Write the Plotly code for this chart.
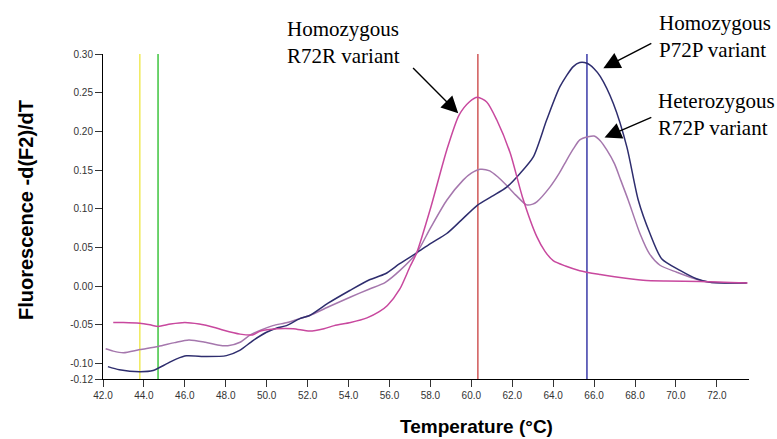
import plotly.graph_objects as go

# ---------------- data ----------------
r72r_temp = [42.5, 43.0, 43.8, 44.3, 44.7, 45.3, 46.0, 46.7, 47.4, 47.9, 48.7, 49.3, 49.7,
             50.5, 51.3, 52.1, 52.8, 53.3, 54.1, 54.9, 55.5, 55.9, 56.5, 57.0, 57.33, 58.0,
             58.8, 59.4, 59.9, 60.3, 60.75, 61.24, 61.9, 62.5, 63.2, 63.6, 64.0, 64.6, 65.3,
             66.3, 67.0, 68.4, 69.5, 71.2, 73.5]
r72r_val = [-0.047, -0.047, -0.048, -0.050, -0.052, -0.049, -0.047, -0.049, -0.053, -0.057,
            -0.062, -0.063, -0.058, -0.055, -0.055, -0.058, -0.055, -0.051, -0.047, -0.041,
            -0.033, -0.025, -0.004, 0.025, 0.043, 0.100, 0.176, 0.221, 0.238, 0.244, 0.238,
            0.215, 0.172, 0.115, 0.064, 0.045, 0.033, 0.026, 0.020, 0.015, 0.012, 0.0075,
            0.0065, 0.006, 0.004]

r72p_temp = [42.13, 42.5, 43.0, 43.8, 44.7, 45.5, 46.2, 47.0, 47.6, 48.1, 48.7, 49.2, 49.7,
             50.3, 51.0, 51.6, 52.1, 53.0, 54.1, 55.0, 55.8, 56.5, 57.33, 58.0, 58.8, 59.6,
             60.0, 60.42, 60.9, 61.3, 61.73, 62.2, 62.7, 63.0, 63.2, 63.84, 64.3, 64.66, 65.0,
             65.3, 65.7, 66.0, 66.3, 66.62, 67.0, 67.3, 67.67, 68.24, 68.7, 69.22, 70.04,
             70.85, 71.67, 73.46]
r72p_val = [-0.081, -0.084, -0.086, -0.082, -0.078, -0.073, -0.0695, -0.0725, -0.076, -0.077,
            -0.0725, -0.063, -0.057, -0.051, -0.047, -0.042, -0.038, -0.027, -0.014, -0.004,
            0.005, 0.020, 0.043, 0.075, 0.111, 0.137, 0.146, 0.151, 0.149, 0.141, 0.130,
            0.117, 0.105, 0.106, 0.109, 0.128, 0.146, 0.163, 0.178, 0.189, 0.193, 0.194,
            0.188, 0.176, 0.158, 0.137, 0.111, 0.068, 0.042, 0.027, 0.018, 0.010, 0.005, 0.004]

p72p_temp = [42.24, 42.8, 43.8, 44.45, 45.1, 45.6, 46.08, 47.06, 48.03, 48.68, 49.33, 49.99,
             50.5, 50.97, 51.62, 52.1, 53.0, 54.06, 55.0, 55.8, 56.5, 57.33, 58.0, 58.8, 59.5,
             60.29, 61.0, 61.73, 62.38, 63.03, 63.68, 64.33, 64.98, 65.3, 65.65, 66.0, 66.3,
             66.94, 67.6, 68.16, 68.73, 69.3, 70.2, 71.0, 71.67, 73.46]
p72p_val = [-0.104, -0.108, -0.1105, -0.109, -0.1005, -0.094, -0.090, -0.091, -0.0898, -0.083,
            -0.0703, -0.0596, -0.054, -0.051, -0.042, -0.038, -0.022, -0.0056, 0.008, 0.016,
            0.029, 0.043, 0.055, 0.068, 0.085, 0.1045, 0.116, 0.128, 0.1456, 0.167, 0.2146,
            0.2578, 0.2837, 0.289, 0.288, 0.281, 0.271, 0.236, 0.18, 0.111, 0.068, 0.0355,
            0.0203, 0.0096, 0.005, 0.004]

marker_temps = [43.8, 44.69, 60.32, 65.65]
marker_colors = ["#f0ea5a", "#3ec43e", "#d05858", "#3a3aa8"]

x_ticks = [42 + 2 * i for i in range(16)]
x_tick_labels = [f"{t:.1f}" for t in x_ticks]
y_ticks = [-0.12, -0.10, -0.05, 0.0, 0.05, 0.10, 0.15, 0.20, 0.25, 0.30]
y_tick_labels = ["-0.12", "-0.10", "-0.05", "0.00", "0.05", "0.10", "0.15", "0.20", "0.25", "0.30"]

# ---------------- figure ----------------
W, H = 777, 439
L, R, T, B = 103, 28, 54, 60
pw, ph = W - L - R, H - T - B


def px(x):
    return (x - L) / pw


def py(y):
    return (H - B - y) / ph


fig = go.Figure()

for t, c in zip(marker_temps, marker_colors):
    fig.add_shape(type="line", x0=t, x1=t, y0=0, y1=1, xref="x", yref="paper",
                  line=dict(color=c, width=1.5), layer="below")

curve_line = dict(width=1.5, shape="spline", smoothing=0.7)
fig.add_trace(go.Scatter(x=r72p_temp, y=r72p_val, mode="lines",
                         line=dict(color="#a577ad", **curve_line), name="R72P"))
fig.add_trace(go.Scatter(x=p72p_temp, y=p72p_val, mode="lines",
                         line=dict(color="#2e2d6e", **curve_line), name="P72P"))
fig.add_trace(go.Scatter(x=r72r_temp, y=r72r_val, mode="lines",
                         line=dict(color="#c8489e", **curve_line), name="R72R"))

tick_font = dict(family="Liberation Sans, Arial", size=10, color="#333333")

fig.update_layout(
    width=W, height=H,
    margin=dict(l=L, r=R, t=T, b=B, pad=0),
    paper_bgcolor="white", plot_bgcolor="white",
    showlegend=False,
    xaxis=dict(range=[42, 73.57], tickvals=x_ticks, ticktext=x_tick_labels,
               showgrid=False, zeroline=False, showline=True, linecolor="black",
               linewidth=1, ticks="outside", ticklen=7, tickcolor="#333333",
               tickfont=tick_font),
    yaxis=dict(range=[-0.12, 0.30], tickvals=y_ticks, ticktext=y_tick_labels,
               showgrid=False, zeroline=False, showline=True, linecolor="black",
               linewidth=1, ticks="outside", ticklen=7, tickcolor="#333333",
               tickfont=tick_font),
)

serif = dict(family="Liberation Serif, Times New Roman", size=21, color="black")
bold = dict(family="Liberation Sans, Arial", size=19, color="black")

annots = [
    dict(text="<b>Temperature (°C)</b>", x=px(476), y=py(426), xref="paper", yref="paper",
         xanchor="center", yanchor="middle", showarrow=False, font=bold),
    dict(text="<b>Fluorescence -d(F2)/dT</b>", x=px(26), y=py(210), xref="paper", yref="paper",
         xanchor="center", yanchor="middle", textangle=-90, showarrow=False,
         font=dict(family="Liberation Sans, Arial", size=20, color="black")),
    dict(text="Homozygous<br>R72R variant", x=px(285), y=py(15), xref="paper", yref="paper",
         xanchor="left", yanchor="top", align="left", showarrow=False, font=serif),
    dict(text="Homozygous<br>P72P variant", x=px(657), y=py(9), xref="paper", yref="paper",
         xanchor="left", yanchor="top", align="left", showarrow=False, font=serif),
    dict(text="Heterozygous<br>R72P variant", x=px(656), y=py(87), xref="paper", yref="paper",
         xanchor="left", yanchor="top", align="left", showarrow=False, font=serif),
]

arrows = [((59.36, 0.2233), (57.08, 0.2837)),
          ((66.45, 0.2816), (68.87, 0.3148)),
          ((66.51, 0.192), (68.87, 0.219))]
for (hx, hy), (tx, ty) in arrows:
    annots.append(dict(text="", x=hx, y=hy, ax=tx, ay=ty, xref="x", yref="y",
                       axref="x", ayref="y", showarrow=True, arrowhead=2,
                       arrowsize=2.4, arrowwidth=1.4, arrowcolor="black"))

fig.update_layout(annotations=annots)

fig.write_html("out.html")
